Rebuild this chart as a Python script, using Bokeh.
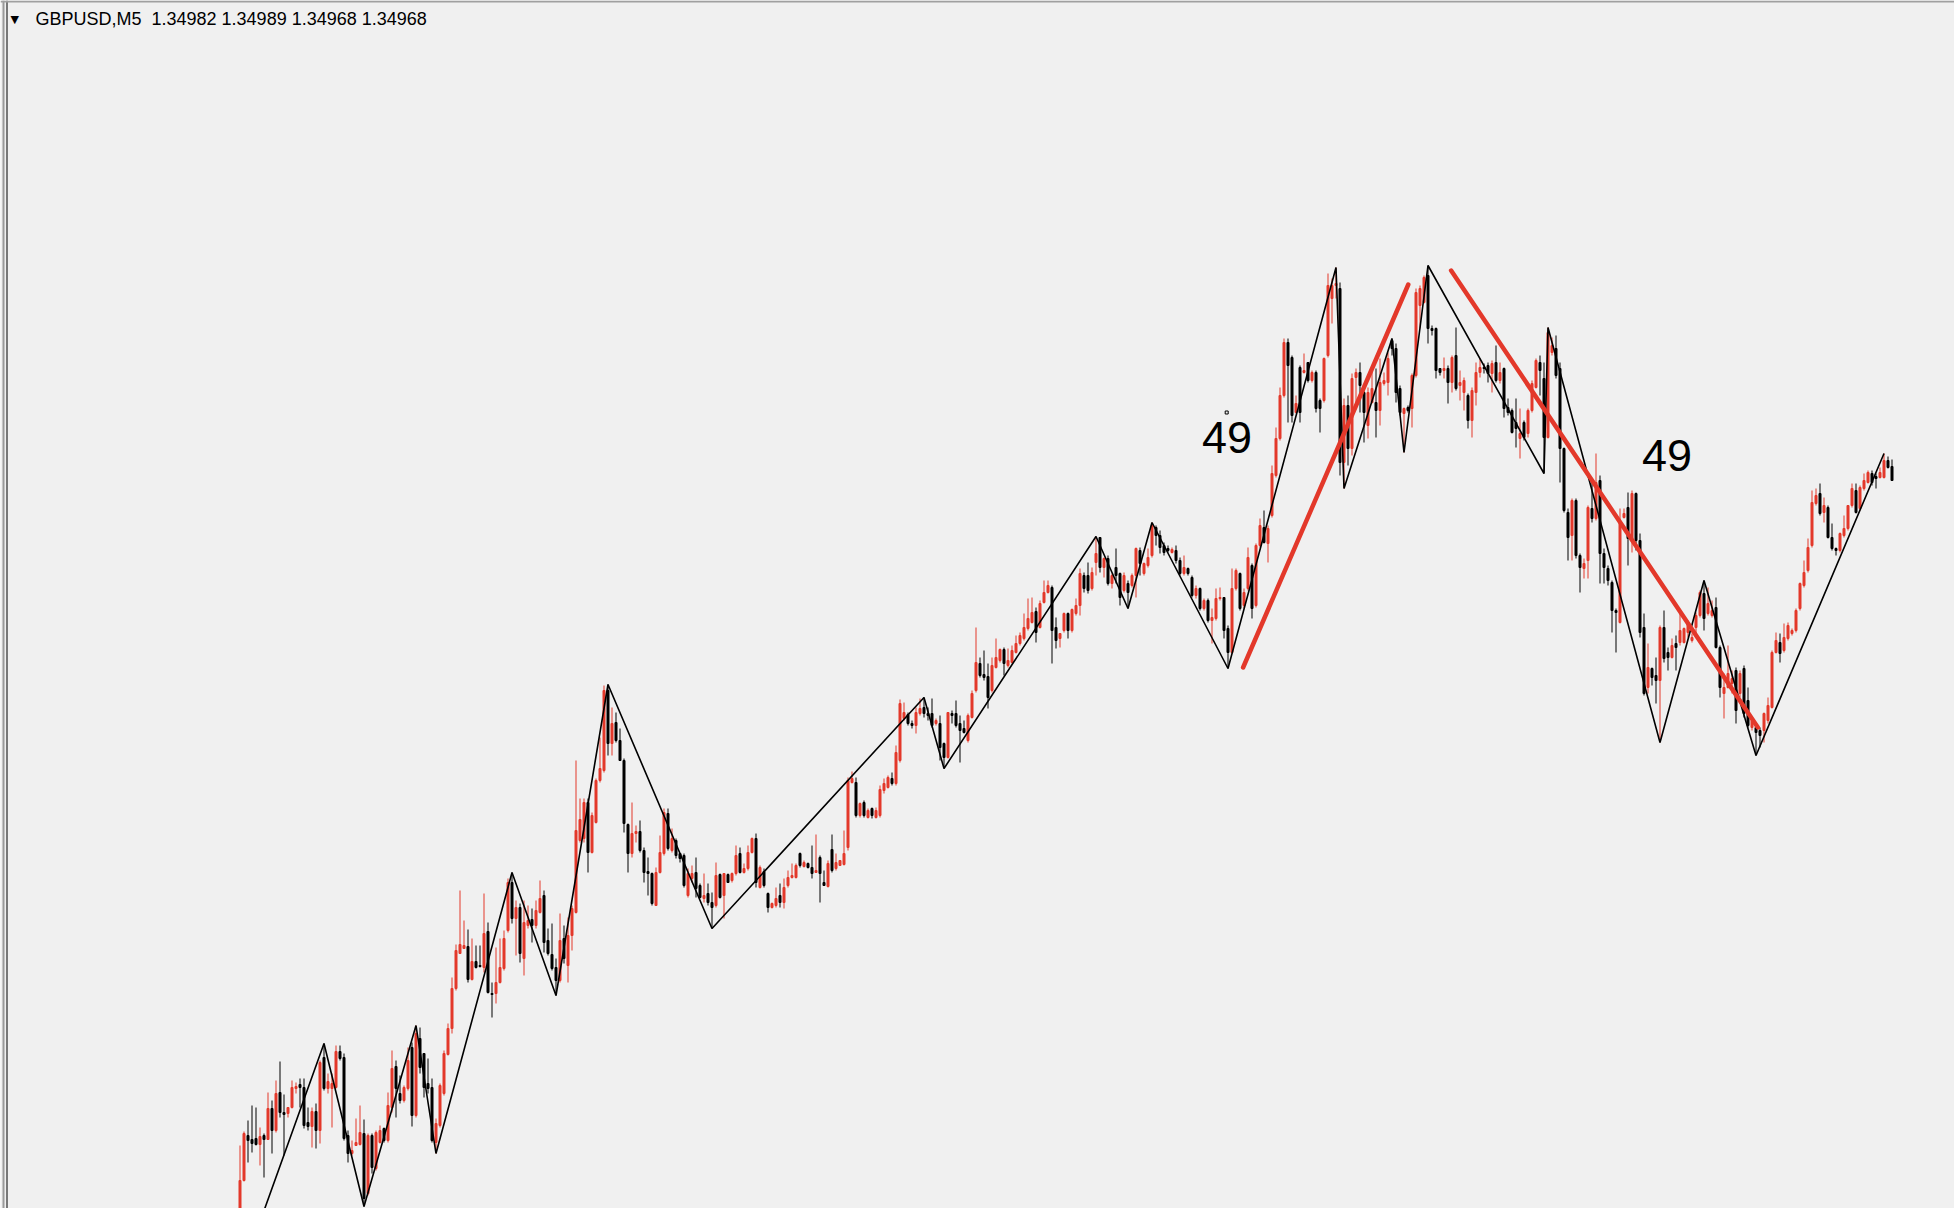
from bokeh.plotting import figure
from bokeh.models import ColumnDataSource, Range1d, Label, BoxAnnotation
from bokeh.embed import file_html
from bokeh.resources import INLINE
from bokeh.core.properties import value

SYMBOL = "GBPUSD,M5"
BASE = 1.34000      # prices stored as points above BASE
POINT = 0.00001

open_pts = [
    200,268,313,309,310,304,313,309,340,318, 356,336,335,341,360,364,361,326,322,337,
    318,391,360,360,361,397,391,313,295,303, 304,315,255,313,280,306,320,308,341,382,
    355,348,360,401,333,410,395,365,361,306, 323,355,394,420,460,495,500,502,469,487,
    483,481,517,455,455,466,480,518,566,530, 541,490,523,529,523,536,553,508,494,481,
    468,510,483,513,536,608,610,646,596,626, 668,678,758,705,726,708,688,624,595,615,
    617,598,577,575,543,576,595,635,598,608, 595,593,553,570,576,563,550,555,546,543,
    574,553,574,568,575,595,576,580,596,610, 561,577,555,541,543,553,546,563,571,571,
    595,582,585,581,576,591,566,562,599,580, 583,584,601,666,666,633,646,631,640,631,
    633,658,661,670,665,688,730,734,725,723, 735,741,735,735,725,725,705,691,735,735,
    725,720,708,731,758,785,774,772,758,781, 788,799,783,786,796,805,810,820,826,837,
    821,846,856,861,821,810,818,835,818,835, 843,873,873,860,886,911,881,890,865,881,
    875,858,865,863,873,898,875,883,893,921, 913,903,900,896,898,888,875,880,871,853,
    860,840,848,828,830,850,851,820,796,860, 875,843,860,883,843,903,921,905,933,973,
    1010,1053,1106,1091,1036,1081,1076,1086,1068,1076, 1048,1048,1093,1150,1163,1160,986,1043,1000,1071,
    1076,1056,1023,1046,1046,1038,1065,1066,1108,1100, 1060,1035,1041,1040,1073,1143,1146,1173,1120,1120,
    1080,1078,1080,1066,1093,1063,1056,1053,1028,1056, 1076,1081,1083,1075,1086,1068,1080,1041,1038,1026,
    1010,1026,1015,1038,1061,1086,1070,1011,1096,1100, 1080,1000,936,913,948,893,880,888,940,930,
    968,895,880,866,838,826,931,941,910,955, 908,821,761,780,773,768,821,796,791,805,
    806,806,816,808,821,833,855,835,833,841, 801,755,761,765,778,755,780,748,721,721,
    718,718,728,741,796,806,798,810,815,818, 840,863,878,903,945,955,936,941,911,900,
    898,913,920,943,958,940,960,966,975,972, 971,971,988,982,
]
high_pts = [
    303,317,328,343,341,321,315,356,348,368, 387,354,341,368,366,370,370,341,341,345,
    388,405,375,375,403,403,395,318,308,330, 343,329,315,315,318,323,321,356,398,388,
    373,363,401,406,423,421,395,390,370,330, 365,398,425,471,504,558,528,519,510,503,
    503,555,526,466,501,510,518,570,576,548, 545,548,543,540,548,568,558,520,525,490,
    535,523,531,543,688,650,650,650,636,670, 711,763,764,741,736,720,690,625,646,623,
    628,601,591,576,581,613,640,640,620,610, 595,595,580,583,591,565,575,565,556,586,
    575,575,575,576,603,601,585,603,611,615, 583,580,556,546,561,565,570,578,585,585,
    596,588,586,603,614,593,578,588,614,595, 588,618,671,677,671,646,648,640,641,641,
    663,670,673,676,703,749,746,736,728,741, 750,751,741,750,730,733,706,736,738,748,
    733,728,735,758,821,791,798,785,791,810, 800,801,800,803,813,816,835,850,851,841,
    848,868,868,863,831,815,836,836,840,850, 880,876,886,881,912,911,891,893,875,900,
    876,876,868,875,901,901,886,900,926,923, 918,906,903,901,903,891,893,881,873,863,
    861,850,850,840,860,861,851,823,880,880, 876,860,901,885,905,930,938,923,983,1021,
    1061,1110,1110,1093,1053,1083,1095,1086,1078,1078, 1050,1091,1175,1170,1181,1166,1050,1053,1075,1080,
    1086,1060,1061,1083,1080,1090,1076,1096,1110,1105, 1063,1041,1043,1075,1160,1163,1173,1183,1123,1121,
    1080,1091,1083,1093,1121,1078,1071,1055,1061,1086, 1090,1085,1086,1088,1103,1086,1081,1050,1040,1050,
    1040,1028,1040,1068,1090,1093,1086,1121,1111,1113, 1086,1001,940,950,950,895,890,943,966,995,
    973,900,883,868,840,940,940,956,958,956, 915,835,805,781,791,823,838,801,810,813,
    838,821,828,815,836,858,868,861,848,851, 803,775,803,778,781,778,783,761,731,721,
    721,736,751,798,816,815,825,826,820,840, 866,888,910,958,960,965,951,943,925,901,
    916,933,943,965,965,963,975,978,978,975, 981,995,992,989,
]
low_pts = [
    171,267,286,296,303,283,271,309,295,316, 331,293,331,340,355,341,320,318,301,300,
    305,358,355,321,360,388,308,286,293,303, 303,242,253,275,278,305,306,306,336,331,
    345,346,358,322,331,375,351,355,306,295, 321,353,393,415,458,495,500,466,468,480,
    481,476,455,431,445,465,478,516,525,493, 486,473,520,506,520,535,496,493,478,453,
    466,485,466,498,535,606,606,576,595,625, 666,676,693,693,706,688,616,576,591,606,
    596,566,553,543,543,575,593,598,596,590, 586,561,551,566,551,550,546,543,520,541,
    550,530,566,566,573,575,575,578,595,561, 560,561,536,540,541,541,540,561,570,570,
    581,581,580,570,576,546,563,561,576,578, 583,583,598,665,631,631,631,630,630,630,
    631,655,660,663,663,686,728,723,720,715, 733,731,728,721,723,688,680,690,725,721,
    686,715,706,730,756,771,768,740,756,780, 786,773,781,785,795,803,808,818,825,806,
    820,845,855,785,800,801,816,810,816,833, 833,856,855,858,873,876,871,863,860,865,
    843,856,840,861,851,873,873,881,891,903, 895,893,896,895,885,873,873,873,851,850,
    838,838,826,805,828,848,810,780,795,858, 838,840,858,830,841,901,905,886,931,971,
    1008,1051,1026,1026,1035,1026,1075,1066,1066,1036, 1016,1046,1091,1125,1150,973,960,983,993,1046,
    1036,1006,1010,1045,1011,1023,1063,1053,1093,1046, 1033,996,1036,1021,1071,1120,1145,1105,1113,1070,
    1073,1070,1045,1056,1058,1048,1038,1020,1011,1043, 1071,1075,1066,1056,1066,1065,1031,1033,1015,1001,
    990,1008,1011,1036,1060,1053,975,1010,1093,1070, 966,936,888,888,890,856,870,870,926,928,
    865,865,863,816,796,825,930,883,896,898, 811,753,755,763,745,706,786,778,790,778,
    803,805,811,806,811,831,818,833,831,800, 751,730,760,755,725,751,731,721,718,693,
    701,706,725,740,795,786,796,808,813,816, 838,861,876,901,943,933,926,910,898,893,
    896,911,918,941,935,938,958,965,963,960, 970,970,980,968,
]
close_pts = [
    268,315,308,305,304,312,309,340,318,355, 336,334,341,361,362,361,323,322,337,318,
    386,360,367,365,397,390,310,295,298,306, 316,250,313,281,316,318,308,343,380,360,
    348,361,388,333,415,381,361,360,308,325, 363,395,420,460,498,504,503,469,487,481,
    482,515,456,454,466,481,510,566,530,541, 495,526,528,523,538,550,506,495,480,468,
    508,490,513,540,618,629,646,596,633,668, 680,758,705,725,708,688,625,595,615,617,
    598,576,575,545,576,596,636,600,610,593, 590,563,575,575,560,551,553,546,541,573,
    551,575,566,575,593,576,580,596,610,566, 581,563,541,545,550,546,561,571,573,583,
    583,586,581,575,578,575,563,585,578,586, 588,595,668,670,633,645,633,638,633,638,
    659,665,671,665,696,745,736,725,723,736, 740,735,733,723,728,701,691,736,733,723,
    718,716,733,755,786,773,771,751,783,791, 799,785,788,798,805,813,821,830,836,816,
    845,856,863,818,808,815,835,818,839,843, 875,860,858,876,895,881,890,865,873,873,
    851,873,856,873,900,885,885,891,923,913, 901,896,898,899,888,875,881,875,853,860,
    840,848,828,831,850,851,818,796,860,878, 840,856,891,840,903,923,906,920,975,1010,
    1053,1106,1083,1033,1045,1036,1078,1068,1076,1040, 1040,1090,1163,1163,1165,986,1043,1000,1070,1076,
    1063,1036,1056,1060,1038,1066,1068,1090,1100,1056, 1036,1040,1038,1073,1156,1160,1171,1120,1118,1078,
    1076,1080,1066,1091,1060,1066,1068,1028,1058,1076, 1081,1080,1075,1085,1068,1076,1040,1036,1016,1020,
    1015,1011,1038,1065,1088,1078,1011,1116,1103,1073, 1000,938,911,948,893,881,885,941,930,966,
    895,881,868,838,836,926,935,910,955,908, 816,755,781,771,768,821,790,791,803,801,
    818,820,826,811,833,856,830,845,838,801, 761,761,775,770,738,775,735,723,728,716,
    713,735,743,796,808,795,811,823,818,838, 865,876,901,946,953,935,943,911,900,898,
    915,920,943,960,936,961,968,976,966,970, 976,988,981,968,
]

# ZigZag turning points (bar index, H = at bar high / L = at bar low)
zz_idx = [0, 21, 31, 44, 49, 68, 79, 92, 118, 171, 176, 214, 222, 228, 247,
          274, 276, 288, 291, 297, 326, 327, 355, 366, 379, 411]
zz_kind = ["L", "H", "L", "H", "L", "H", "L", "H", "L", "H", "L", "H", "L", "H", "L",
           "H", "L", "H", "L", "H", "L", "H", "L", "H", "L", "H"]

# hand-drawn red trend lines (bar index, points)
trend1_x = [250.9, 292.2]
trend1_pts = [781, 1164]
trend2_x = [302.9, 379.6]
trend2_pts = [1178, 721]

# text objects "49" (bar index, points) and anchor dot
label_text = ["49", "49"]
label_x = [246.9, 356.9]
label_pts = [1011, 993]
anchor_x = [246.8]
anchor_pts = [1036]

N = len(close_pts)
to_price = lambda v: BASE + v * POINT
XOFF = 0.125  # centre bars on pixel

RED = "#E3382A"
BLACK = "#000000"

xs = [i + XOFF for i in range(N)]
o = [to_price(v) for v in open_pts]
h = [to_price(v) for v in high_pts]
l = [to_price(v) for v in low_pts]
c = [to_price(v) for v in close_pts]
top = [max(a, b) for a, b in zip(o, c)]
bot = [min(a, b) for a, b in zip(o, c)]
hi = [max(a, b) for a, b in zip(h, top)]
lo = [min(a, b) for a, b in zip(l, bot)]
col = [RED if cc > oo else BLACK for oo, cc in zip(o, c)]

src = ColumnDataSource(dict(x=xs, top=top, bot=bot, hi=hi, lo=lo, col=col))

W, H = 1954, 1208
p = figure(width=W, height=H, output_backend="svg", toolbar_location=None,
           x_range=Range1d(-59.75, -59.75 + W / 4),
           y_range=Range1d(to_price(240), to_price(240 + H)),
           x_axis_location=None, y_axis_location=None,
           min_border=0, outline_line_color=None,
           background_fill_color="#F0F0F0", border_fill_color="#F0F0F0")
p.grid.visible = False

# window frame (left and top edges)
p.add_layout(BoxAnnotation(left=2, right=4, left_units="screen", right_units="screen",
                           fill_color="#9A9A9A", fill_alpha=1, line_color=None))
p.add_layout(BoxAnnotation(left=6, right=7, left_units="screen", right_units="screen",
                           fill_color="black", fill_alpha=1, line_color=None))
p.add_layout(BoxAnnotation(bottom=H - 2, top=H, bottom_units="screen", top_units="screen",
                           fill_color="#A0A0A0", fill_alpha=1, line_color=None))

p.segment(x0="x", x1="x", y0="lo", y1="hi", line_color="col", line_width=1, source=src)
p.vbar(x="x", width=0.5, top="top", bottom="bot", fill_color="col", line_color="col",
       line_width=1, source=src)

zz_x = [i + XOFF for i in zz_idx]
zz_y = [h[i] if k == "H" else l[i] for i, k in zip(zz_idx, zz_kind)]
p.line(zz_x, zz_y, line_color="black", line_width=1.6)

p.line(trend1_x, [to_price(v) for v in trend1_pts], line_color=RED, line_width=4.5, line_cap="round")
p.line(trend2_x, [to_price(v) for v in trend2_pts], line_color=RED, line_width=4.5, line_cap="round")

p.text(x=label_x, y=[to_price(v) for v in label_pts], text=label_text,
       text_font=value("Liberation Sans"), text_font_size="45px",
       text_align="center", text_baseline="alphabetic", text_color="black")
p.scatter(anchor_x, [to_price(v) for v in anchor_pts], marker="square", size=3,
          fill_color=None, line_color="black", line_width=1)

title = f"{SYMBOL}\u00a0 {o[-1]:.5f} {h[-1]:.5f} {l[-1]:.5f} {c[-1]:.5f}"
p.add_layout(Label(x=35, y=H - 18, x_units="screen", y_units="screen", text=title,
                   text_font="Liberation Sans", text_font_size="18px",
                   text_color="black", text_baseline="alphabetic"))
p.add_layout(Label(x=10, y=H - 19, x_units="screen", y_units="screen", text="\u25BC",
                   text_font="DejaVu Sans", text_font_size="11px",
                   text_color="black", text_baseline="alphabetic"))

open("out.html", "w").write(file_html(p, INLINE))
